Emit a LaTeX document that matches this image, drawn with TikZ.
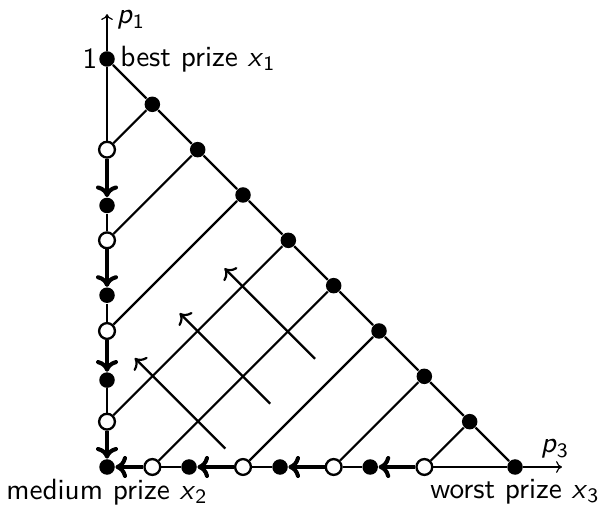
\documentclass[tikz,border=0pt]{standalone}
\usetikzlibrary{arrows.meta}
\begin{document}
\begin{tikzpicture}[x=4.9cm,y=4.9cm, font=\sffamily,
  fdot/.style={circle,fill=black,inner sep=0pt,minimum size=5.3pt},
  odot/.style={circle,draw=black,fill=white,line width=0.8pt,inner sep=0pt,minimum size=5.4pt},
  edge/.style={line width=0.75pt},
  move/.style={line width=1.4pt,-{To[length=4pt,width=7.5pt]}},
  pref/.style={line width=0.75pt,-{To[length=3.2pt,width=6.5pt]}},
  axis/.style={line width=0.4pt,-{To[length=2pt,width=4pt]}}]
\useasboundingbox (-0.2623,-0.0907) rectangle (1.2083,1.1446);
% corner and hypotenuse points
\node[fdot] (T) at (0,1) {};
\node[fdot] (R) at (1,0) {};
\node[fdot] (O) at (0,0) {};
\foreach \k in {1,...,8} \node[fdot] (h\k) at (\k/9,1-\k/9) {};
% open points on the p1 axis
\node[odot] (v1) at (0,7/9) {};
\node[odot] (v2) at (0,5/9) {};
\node[odot] (v3) at (0,3/9) {};
\node[odot] (v4) at (0,1/9) {};
% filled points on the p1 axis
\node[fdot] (f1) at (0,0.641) {};
\node[fdot] (f2) at (0,0.421) {};
\node[fdot] (f3) at (0,0.213) {};
% open points on the p3 axis
\node[odot] (b1) at (1/9,0) {};
\node[odot] (b2) at (3/9,0) {};
\node[odot] (b3) at (5/9,0) {};
\node[odot] (b4) at (7/9,0) {};
% filled points on the p3 axis
\node[fdot] (g1) at (0.201,0) {};
\node[fdot] (g2) at (0.424,0) {};
\node[fdot] (g3) at (0.645,0) {};
% axes
\coordinate (ytip) at (0,1.110);
\coordinate (xtip) at (1.115,0);
\draw[axis] (T) -- (ytip);
\draw[axis] (R) -- (xtip);
% hypotenuse
\draw[edge] (T) -- (h1) -- (h2) -- (h3) -- (h4) -- (h5) -- (h6) -- (h7) -- (h8) -- (R);
% indifference lines
\draw[edge] (h1) -- (v1);
\draw[edge] (h2) -- (v2);
\draw[edge] (h3) -- (v3);
\draw[edge] (h4) -- (v4);
\draw[edge] (h5) -- (b1);
\draw[edge] (h6) -- (b2);
\draw[edge] (h7) -- (b3);
\draw[edge] (h8) -- (b4);
% thin edge pieces
\draw[edge] (T) -- (v1);
\draw[edge] (f1) -- (v2);
\draw[edge] (f2) -- (v3);
\draw[edge] (f3) -- (v4);
\draw[edge] (b1) -- (g1);
\draw[edge] (b2) -- (g2);
\draw[edge] (b3) -- (g3);
\draw[edge] (b4) -- (R);
% thick moves
\draw[move] (v1) -- (f1);
\draw[move] (v2) -- (f2);
\draw[move] (v3) -- (f3);
\draw[move] (v4) -- (O);
\draw[move] (b1) -- (O);
\draw[move] (b2) -- (g1);
\draw[move] (b3) -- (g2);
\draw[move] (b4) -- (g3);
% preference arrows
\coordinate (a1s) at (0.290,0.045);
\coordinate (a1e) at (0.068,0.267);
\coordinate (a2s) at (0.400,0.155);
\coordinate (a2e) at (0.178,0.377);
\coordinate (a3s) at (0.510,0.265);
\coordinate (a3e) at (0.288,0.487);
\draw[pref] (a1s) -- (a1e);
\draw[pref] (a2s) -- (a2e);
\draw[pref] (a3s) -- (a3e);
% labels
\node[anchor=east,inner sep=0.3pt] (lone) at (T.west) {1};
\node[anchor=west,inner sep=1.5pt] (lbest) at (T.east) {best prize \textit{x}\textsubscript{1}};
\node[anchor=north,inner sep=1pt] (lmed) at (O.south) {medium prize \textit{x}\textsubscript{2}};
\node[anchor=north,inner sep=1pt] (lworst) at (R.south) {worst prize \textit{x}\textsubscript{3}};
\node (lp1) at (0.0588,1.0956) {\textit{p}\textsubscript{1}};
\node (lp3) at (1.098,0.0441) {\textit{p}\textsubscript{3}};
\end{tikzpicture}
\end{document}
